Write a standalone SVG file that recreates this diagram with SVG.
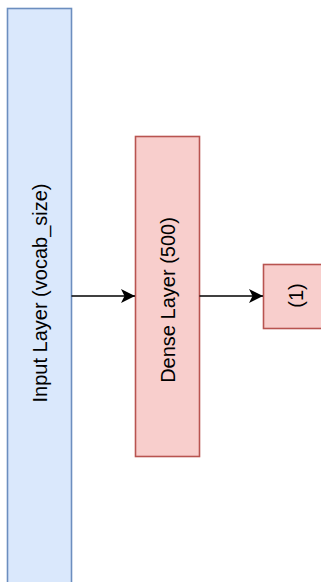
<svg xmlns="http://www.w3.org/2000/svg" width="321" height="582" viewBox="0 0 321 582">
<style>
.blue{fill:#dae8fc;stroke:#6c8ebf;stroke-width:1.6}
.red{fill:#f8cecc;stroke:#b85450;stroke-width:1.6}
.lbl{font-family:"Liberation Sans",Arial,sans-serif;font-size:20px;fill:#000;text-anchor:middle;dominant-baseline:central}
.edge{stroke:#000;stroke-width:1.6;fill:none}
</style>
<defs>
<marker id="arr" viewBox="0 0 14 14" refX="14" refY="7" markerWidth="14" markerHeight="14" markerUnits="userSpaceOnUse" orient="auto">
<path d="M0,0 L14,7 L0,14 L3.5,7 Z" fill="#000"/>
</marker>
</defs>
<g id="input">
<rect class="blue" x="7.5" y="8.5" width="64" height="590"/>
<text class="lbl" transform="translate(39.5,293) rotate(-90)">Input Layer (vocab_size)</text>
</g>
<g id="dense">
<rect class="red" x="135.5" y="136.5" width="64" height="320"/>
<text class="lbl" transform="translate(167.5,300) rotate(-90)">Dense Layer (500)</text>
</g>
<g id="output">
<rect class="red" x="263.5" y="264.5" width="64" height="64"/>
<text class="lbl" transform="translate(295.5,295.5) rotate(-90)">(1)</text>
</g>
<g id="edges">
<path class="edge" d="M71.5,296 L135,296" marker-end="url(#arr)"/>
<path class="edge" d="M199.5,296 L263,296" marker-end="url(#arr)"/>
</g>
</svg>
